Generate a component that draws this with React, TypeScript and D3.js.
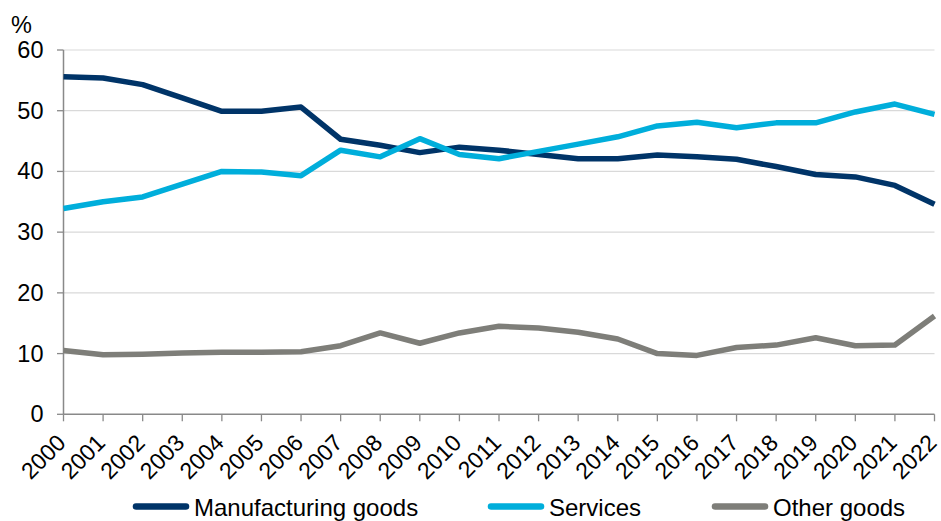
import React from "react";
import * as d3 from "d3";

const years = ["2000","2001","2002","2003","2004","2005","2006","2007","2008","2009","2010","2011","2012","2013","2014","2015","2016","2017","2018","2019","2020","2021","2022"];
const manufacturing = [55.6,55.4,54.3,52.1,49.9,49.9,50.6,45.3,44.3,43.1,44.0,43.5,42.8,42.1,42.1,42.7,42.4,42.0,40.8,39.5,39.1,37.7,34.6];
const services = [33.9,35.0,35.8,37.9,40.0,39.9,39.3,43.5,42.4,45.4,42.8,42.1,43.3,44.5,45.7,47.5,48.1,47.2,48.0,48.0,49.8,51.1,49.4];
const otherGoods = [10.5,9.8,9.9,10.1,10.2,10.2,10.3,11.3,13.4,11.7,13.4,14.5,14.2,13.5,12.4,10.0,9.7,11.0,11.4,12.6,11.3,11.4,16.2];
const yTicks = [0,10,20,30,40,50,60];
const seriesNames = ["Manufacturing goods","Services","Other goods"];
const seriesColors = ["#003468","#00AEDB","#7E7E79"];

export default function App() {
  const W = 941, H = 521;
  const left = 63.5, right = 934.5, top = 50, bottom = 414.3;
  const x = d3.scalePoint<string>().domain(years).range([left, right]);
  const y = d3.scaleLinear().domain([0, 60]).range([bottom, top]);
  const line = d3.line<number>().x((_, i) => x(years[i]) as number).y(d => y(d));
  const all = [manufacturing, services, otherGoods];
  const font = "'Liberation Sans', Arial, sans-serif";
  const legendX = [133, 488, 712];
  const legendBase = 515.5;
  return (
    <svg width={W} height={H} style={{ position: "absolute", left: 0, top: 0 }} fontFamily={font}>
      <rect width={W} height={H} fill="#fff" />
      {yTicks.filter(t => t > 0).map(t => (
        <line key={t} x1={left} x2={right} y1={y(t)} y2={y(t)} stroke="#d9d9d9" strokeWidth={1.2} />
      ))}
      {yTicks.map(t => (
        <g key={"yt" + t}>
          <line x1={left - 6.5} x2={left} y1={y(t)} y2={y(t)} stroke="#898989" strokeWidth={1.3} />
          <text x={43.5} y={y(t)} dy="0.34em" textAnchor="end" fontSize={23.5} fill="#000">{t}</text>
        </g>
      ))}
      <text x={11} y={33} fontSize={23.5} fill="#000">%</text>
      <line x1={left} x2={left} y1={top} y2={bottom} stroke="#898989" strokeWidth={1.5} />
      <line x1={left} x2={right} y1={bottom} y2={bottom} stroke="#898989" strokeWidth={1.5} />
      {years.map(yr => (
        <g key={yr}>
          <line x1={x(yr)} x2={x(yr)} y1={bottom} y2={bottom + 7} stroke="#898989" strokeWidth={1.3} />
          <text transform={`translate(${(x(yr) as number) + 3.5},${bottom + 30}) rotate(-45)`} textAnchor="end" fontSize={23} fill="#000">{yr}</text>
        </g>
      ))}
      {all.map((s, i) => (
        <path key={i} d={line(s) || ""} fill="none" stroke={seriesColors[i]} strokeWidth={5.5} strokeLinejoin="round" />
      ))}
      {seriesNames.map((n, i) => (
        <g key={n}>
          <line x1={legendX[i] + 3} x2={legendX[i] + 53} y1={legendBase - 9} y2={legendBase - 9} stroke={seriesColors[i]} strokeWidth={6.5} strokeLinecap="round" />
          <text x={legendX[i] + 61} y={legendBase} fontSize={24} fill="#000">{n}</text>
        </g>
      ))}
    </svg>
  );
}
